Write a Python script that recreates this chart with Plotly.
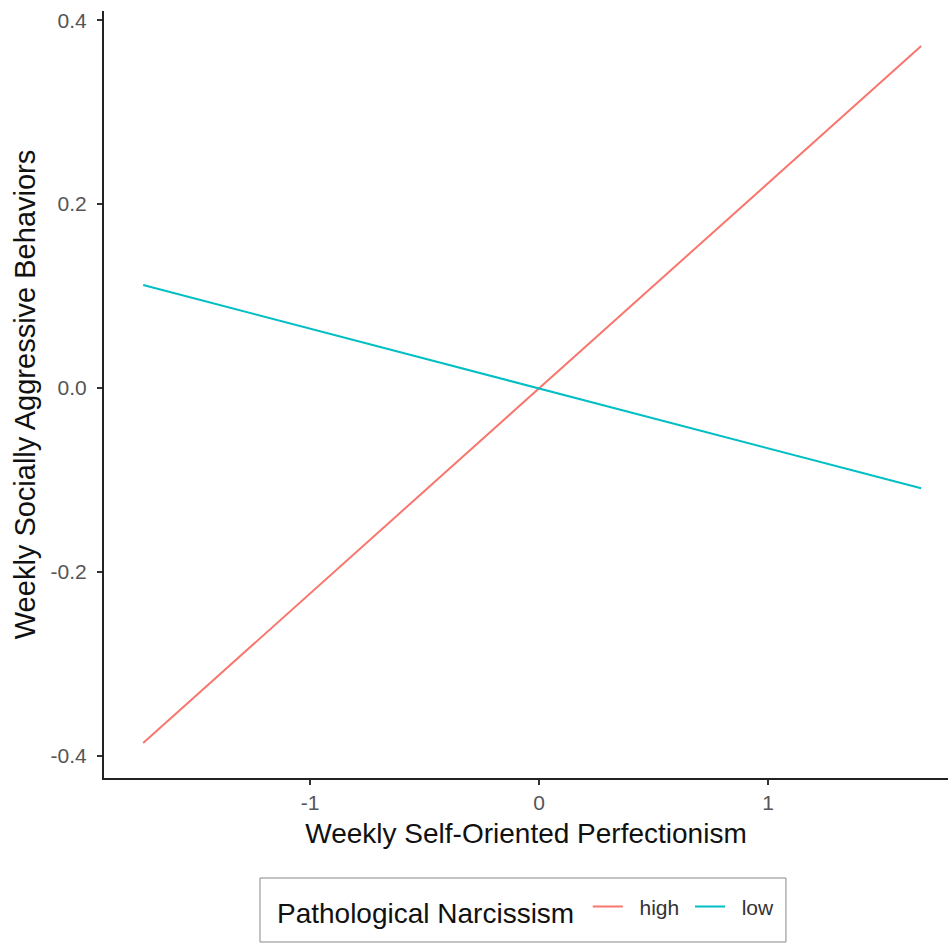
import plotly.graph_objects as go

x_vals = [-1.729, 1.668]
high_vals = [-0.386, 0.372]
low_vals = [0.112, -0.109]
groups = ["high", "low"]
colors = ["#F8766D", "#00BFC4"]

fig = go.Figure()
for name, yv, c in zip(groups, [high_vals, low_vals], colors):
    fig.add_trace(go.Scatter(x=x_vals, y=yv, mode="lines",
                             name="\u00a0\u00a0" + name + "\u00a0",
                             line=dict(color=c, width=2)))

font_family = "Liberation Sans, Arial, sans-serif"
fig.update_layout(
    width=948, height=943, autosize=False,
    margin=dict(l=104, r=0, t=11, b=165),
    plot_bgcolor="white", paper_bgcolor="white",
    font=dict(family=font_family, color="#000000"),
    xaxis=dict(range=[-1.90, 1.785], tickvals=[-1, 0, 1], ticktext=["-1", "0", "1"],
               showgrid=False, zeroline=False, showline=True, linecolor="#222222", linewidth=2,
               ticks="outside", ticklen=5, tickcolor="#333333", tickwidth=1.5,
               tickfont=dict(size=21, color="#555555"),
               title=dict(text="Weekly Self-Oriented Perfectionism", font=dict(size=28, color="#111111"), standoff=10)),
    yaxis=dict(range=[-0.424, 0.41], tickvals=[-0.4, -0.2, 0.0, 0.2, 0.4],
               ticktext=["-0.4", "-0.2", "0.0", "0.2", "0.4"],
               showgrid=False, zeroline=False, showline=True, linecolor="#222222", linewidth=2,
               ticks="outside", ticklen=5, tickcolor="#333333", tickwidth=1.5,
               ticklabelstandoff=6,
               tickfont=dict(size=21, color="#555555"),
               title=dict(text="Weekly Socially Aggressive Behaviors", font=dict(size=29, color="#111111"), standoff=6)),
    legend=dict(orientation="h", x=0.5047, xanchor="center", y=-0.172, yanchor="middle",
                title=dict(text="Pathological Narcissism\u2009", font=dict(size=28, color="#111111"), side="left"),
                font=dict(size=21, color="#333333"),
                borderwidth=0, itemwidth=30, bgcolor="rgba(0,0,0,0)"),
    shapes=[dict(type="rect", xref="paper", yref="paper", x0=0.1848, x1=0.808, y0=-0.2138, y1=-0.1304,
                 line=dict(color="#888888", width=1), fillcolor="rgba(0,0,0,0)", layer="below")],
)
fig.write_html("out.html", config={"displayModeBar": False},
               post_script="document.body.style.margin='0';document.body.style.overflow='hidden';")
